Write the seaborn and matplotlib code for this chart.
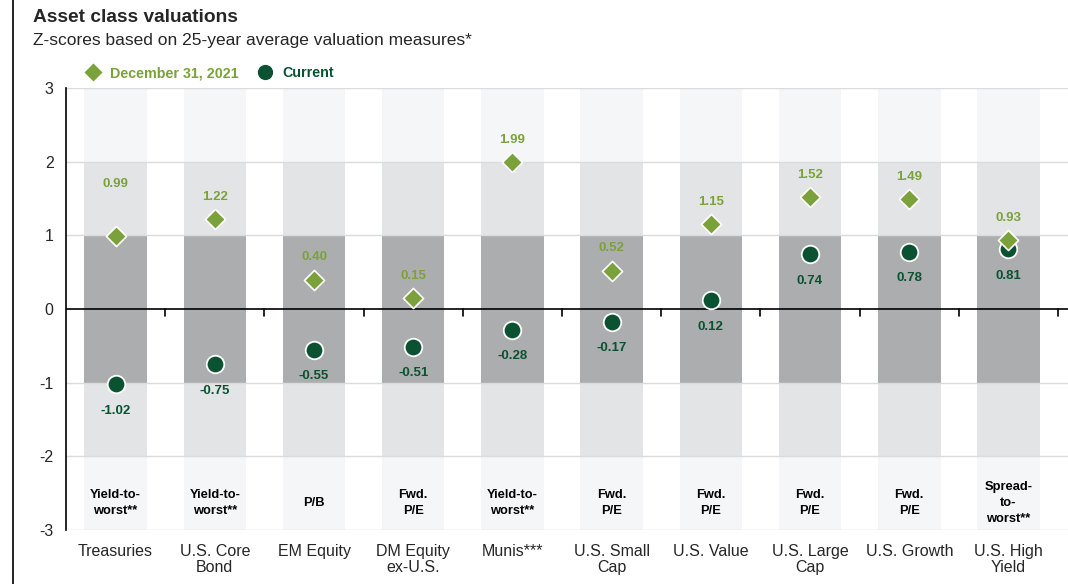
import numpy as np
import pandas as pd
import seaborn as sns
import matplotlib.pyplot as plt
from matplotlib.lines import Line2D

# Data
categories = ['Treasuries', 'U.S. Core\nBond', 'EM Equity', 'DM Equity\nex-U.S.', 'Munis***',
              'U.S. Small\nCap', 'U.S. Value', 'U.S. Large\nCap', 'U.S. Growth', 'U.S. High\nYield']
dec_2021 = [0.99, 1.22, 0.40, 0.15, 1.99, 0.52, 1.15, 1.52, 1.49, 0.93]
current = [-1.02, -0.75, -0.55, -0.51, -0.28, -0.17, 0.12, 0.74, 0.78, 0.81]
measures = ['Yield-to-\nworst**', 'Yield-to-\nworst**', 'P/B', 'Fwd.\nP/E', 'Yield-to-\nworst**',
            'Fwd.\nP/E', 'Fwd.\nP/E', 'Fwd.\nP/E', 'Fwd.\nP/E', 'Spread-\nto-\nworst**']

GREEN = '#7ba23a'
DARK = '#0a5231'

sns.set_theme(style='white')
plt.rcParams['font.family'] = ['Liberation Sans', 'DejaVu Sans']

df = pd.DataFrame({'pos': np.arange(len(categories)), 'dec': dec_2021, 'cur': current})

fig = plt.figure(figsize=(10.68, 5.84), dpi=100)
ax = fig.add_axes([66/1068, 1-530/584, 1002/1068, 442/584])

# background bands for each category
bands = [(2, 3, '#f5f6f8'), (1, 2, '#e3e4e6'), (-1, 1, '#acadaf'), (-2, -1, '#e3e4e6'), (-3, -2, '#f5f6f8')]
for lo, hi, c in bands:
    ax.bar(df['pos'], hi - lo, bottom=lo, width=0.63, color=c, zorder=0, linewidth=0)

for yv in [-3, -2, -1, 1, 2, 3]:
    ax.axhline(yv, color='#dadbdd', lw=1, zorder=1)
ax.axhline(0, color='black', lw=1.2, zorder=2)
for xb in np.arange(0.5, len(categories), 1):
    ax.plot([xb, xb], [0, -0.09], color='black', lw=1.2, zorder=2, clip_on=False)

sns.scatterplot(data=df, x='pos', y='cur', marker='o', s=160, color=DARK,
                edgecolor='white', linewidth=1.3, ax=ax, zorder=4, label='Current')
sns.scatterplot(data=df, x='pos', y='dec', marker='D', s=105, color=GREEN,
                edgecolor='white', linewidth=1.2, ax=ax, zorder=5, label='December 31, 2021')

# value labels
nudge = {0: 30}
for i, (d, c) in enumerate(zip(dec_2021, current)):
    ax.annotate(f'{d:.2f}', (i, d), xytext=(0, 16 + nudge.get(i, 0) * 0.72), textcoords='offset points',
                ha='center', va='center', color=GREEN, fontsize=9.5, fontweight='bold', zorder=6)
    ax.annotate(f'{c:.2f}', (i, c), xytext=(0, -19), textcoords='offset points',
                ha='center', va='center', color=DARK, fontsize=9.5, fontweight='bold', zorder=6)
    ax.text(i, -2.63, measures[i], ha='center', va='center', fontsize=9.3, fontweight='bold',
            color='black', linespacing=1.45, zorder=6)

ax.set_xlim(-0.5, len(categories) - 0.4)
ax.set_ylim(-3, 3)
ax.set_yticks(range(-3, 4))
ax.set_yticklabels([str(v) for v in range(-3, 4)], fontsize=11.5)
ax.set_xticks(df['pos'])
ax.set_xticklabels(categories, fontsize=11.5, linespacing=1.1)
ax.tick_params(axis='x', length=0, pad=10)
ax.tick_params(axis='y', length=0, pad=9)
ax.set_xlabel('')
ax.set_ylabel('')
for s in ['top', 'right', 'bottom']:
    ax.spines[s].set_visible(False)
ax.spines['left'].set_color('black')
ax.spines['left'].set_linewidth(1.2)

handles = [Line2D([], [], marker='D', ls='', color=GREEN, markersize=10.5, markeredgecolor='white'),
           Line2D([], [], marker='o', ls='', color=DARK, markersize=12, markeredgecolor='white')]
ax.legend(handles, ['December 31, 2021', 'Current'], loc='center left', bbox_to_anchor=(0.013, 1.033),
          ncol=2, frameon=False, labelcolor=[GREEN, DARK], prop={'weight': 'bold', 'size': 10.3},
          handletextpad=0.6, columnspacing=1.2, handlelength=1.2, borderaxespad=0)

fig.text(33/1068, 1-18/584, 'Asset class valuations', fontsize=13.8, fontweight='bold', va='center')
fig.text(33/1068, 1-40/584, 'Z-scores based on 25-year average valuation measures*', fontsize=12.5, va='center')
fig.add_artist(Line2D([13/1068, 13/1068], [0, 1], color='black', lw=1.2))

fig.savefig('out.png', dpi=100)
